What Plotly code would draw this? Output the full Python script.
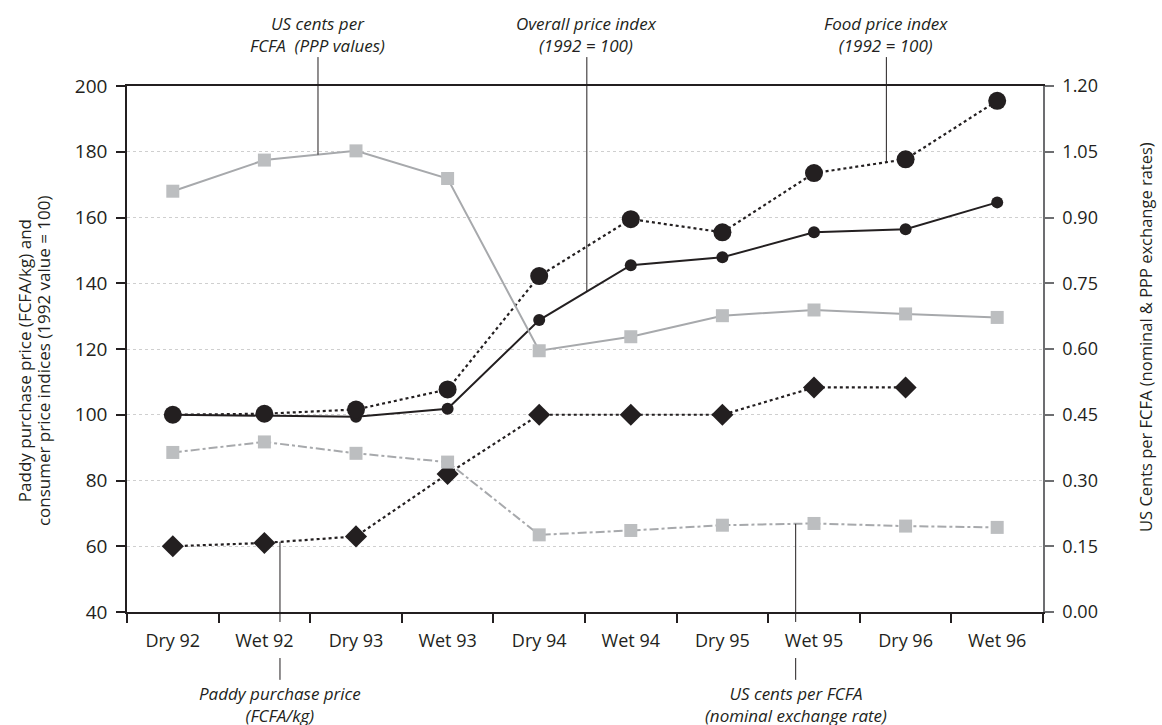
import plotly.graph_objects as go

# ---------------- data ----------------
categories = ["Dry 92", "Wet 92", "Dry 93", "Wet 93", "Dry 94",
              "Wet 94", "Dry 95", "Wet 95", "Dry 96", "Wet 96"]

food_index = [100, 100.3, 101.6, 107.7, 142.2, 159.5, 155.5, 173.5, 177.7, 195.5]
overall_index = [100, 99.8, 99.4, 101.8, 128.8, 145.5, 147.9, 155.5, 156.4, 164.6]
paddy_price = [60, 61, 63, 82, 100, 100, 100, 108.3, 108.3, None]

usc_ppp = [0.960, 1.031, 1.052, 0.989, 0.596, 0.628, 0.676, 0.689, 0.680, 0.672]
usc_nominal = [0.364, 0.388, 0.362, 0.342, 0.176, 0.186, 0.198, 0.202, 0.196, 0.193]

left_ticks = [40, 60, 80, 100, 120, 140, 160, 180, 200]
right_ticks = [0.00, 0.15, 0.30, 0.45, 0.60, 0.75, 0.90, 1.05, 1.20]
right_ticktext = ["0.00", "0.15", "0.30", "0.45", "0.60", "0.75", "0.90", "1.05", "1.20"]

# ---------------- styling ----------------
BLACK = "#231f20"
GRAY_LINE = "#a7a9ac"
GRAY_MARK = "#bcbec0"
FONT = "Open Sans"

X0, X1 = -0.5, len(categories) - 0.5
Y0, Y1 = 40, 200
R0, R1 = 0.0, 1.2


def xp(p):
    return (p - X0) / (X1 - X0)


def yp(v):
    return (v - Y0) / (Y1 - Y0)


def rp(v):
    return (v - R0) / (R1 - R0)


def interp(series, p):
    i = int(p)
    f = p - i
    return series[i] + (series[i + 1] - series[i]) * f


fig = go.Figure()

fig.add_trace(go.Scatter(
    x=categories, y=usc_ppp, yaxis="y2", mode="lines+markers",
    line=dict(color=GRAY_LINE, width=2),
    marker=dict(symbol="square", size=13, color=GRAY_MARK),
    name="US cents per FCFA (PPP values)"))

fig.add_trace(go.Scatter(
    x=categories, y=usc_nominal, yaxis="y2", mode="lines+markers",
    line=dict(color=GRAY_LINE, width=2, dash="dashdot"),
    marker=dict(symbol="square", size=13, color=GRAY_MARK),
    name="US cents per FCFA (nominal exchange rate)"))

fig.add_trace(go.Scatter(
    x=categories, y=overall_index, mode="lines+markers",
    line=dict(color=BLACK, width=2),
    marker=dict(symbol="circle", size=12, color=BLACK),
    name="Overall price index (1992 = 100)"))

fig.add_trace(go.Scatter(
    x=categories, y=food_index, mode="lines+markers",
    line=dict(color=BLACK, width=2.2, dash="dot"),
    marker=dict(symbol="circle", size=18, color=BLACK),
    name="Food price index (1992 = 100)"))

fig.add_trace(go.Scatter(
    x=categories, y=paddy_price, mode="lines+markers",
    line=dict(color=BLACK, width=2.2, dash="dot"),
    marker=dict(symbol="diamond", size=17, color=BLACK),
    name="Paddy purchase price (FCFA/kg)"))

# ---------------- leader lines & callouts ----------------
shapes = []
annotations = []
ann_font = dict(family=FONT, size=17, color=BLACK, style="italic")

top_callouts = [
    (1.585, rp(interp(usc_ppp, 1.585)), "US cents per<br>FCFA  (PPP values)"),
    (4.52, yp(interp(overall_index, 4.52)), "Overall price index<br>(1992 = 100)"),
    (7.79, yp(interp(food_index, 7.79)), "Food price index<br>(1992 = 100)"),
]
for p, yb, txt in top_callouts:
    shapes.append(dict(type="line", xref="paper", yref="paper",
                       x0=xp(p), x1=xp(p), y0=yb, y1=1.055,
                       line=dict(color=BLACK, width=1)))
    annotations.append(dict(xref="paper", yref="paper", x=xp(p), y=1.052,
                            xanchor="center", yanchor="bottom", showarrow=False,
                            text=txt, font=ann_font, align="center"))

bottom_callouts = [
    (1.17, yp(interp(paddy_price, 1.17)), "Paddy purchase price<br>(FCFA/kg)"),
    (6.80, rp(interp(usc_nominal, 6.80)), "US cents per FCFA<br>(nominal exchange rate)"),
]
for p, yt, txt in bottom_callouts:
    shapes.append(dict(type="line", xref="paper", yref="paper",
                       x0=xp(p), x1=xp(p), y0=yt, y1=-0.019,
                       line=dict(color=BLACK, width=1)))
    shapes.append(dict(type="line", xref="paper", yref="paper",
                       x0=xp(p), x1=xp(p), y0=-0.0875, y1=-0.129,
                       line=dict(color=BLACK, width=1)))
    annotations.append(dict(xref="paper", yref="paper", x=xp(p), y=-0.129,
                            xanchor="center", yanchor="top", showarrow=False,
                            text=txt, font=ann_font, align="center"))

# axis titles (two lines placed separately for tight line spacing)
left_title_lines = ["Paddy purchase price (FCFA/kg) and",
                    "consumer price indices (1992 value = 100)"]
for xx, line in zip([-0.1124, -0.0917], left_title_lines):
    annotations.append(dict(xref="paper", yref="paper", x=xx, y=0.477,
                            xanchor="center", yanchor="middle", showarrow=False,
                            textangle=-90, text=line,
                            font=dict(family=FONT, size=17, color=BLACK)))
annotations.append(dict(xref="paper", yref="paper", x=1.1125, y=0.523,
                        xanchor="center", yanchor="middle", showarrow=False,
                        textangle=-90,
                        text="US Cents per FCFA (nominal & PPP exchange rates)",
                        font=dict(family=FONT, size=16.5, color=BLACK)))

fig.update_layout(
    width=1162, height=725,
    margin=dict(l=127, r=119, t=86, b=113),
    paper_bgcolor="white", plot_bgcolor="white",
    showlegend=False,
    font=dict(family=FONT, size=18, color=BLACK),
    xaxis=dict(type="category", range=[X0, X1], tickson="boundaries",
               ticks="outside", ticklen=9, tickcolor=BLACK, tickwidth=1.5,
               showline=True, linecolor=BLACK, linewidth=1.5, mirror=True,
               showgrid=False, zeroline=False, ticklabelstandoff=12,
               tickfont=dict(family=FONT, size=18, color=BLACK)),
    yaxis=dict(range=[Y0, Y1], tickvals=left_ticks, ticks="outside", ticklen=9,
               tickcolor=BLACK, tickwidth=1.5, showline=True, linecolor=BLACK,
               linewidth=1.5, showgrid=True, gridcolor="#cfcfcf", gridwidth=1,
               griddash="dot", zeroline=False, ticklabelstandoff=5,
               tickfont=dict(family=FONT, size=19, color=BLACK)),
    yaxis2=dict(range=[R0, R1], tickvals=right_ticks, ticktext=right_ticktext,
                overlaying="y", side="right", ticks="outside", ticklen=9,
                tickcolor="#6d6e71", tickwidth=1.5, showline=True,
                linecolor="#6d6e71", linewidth=1.5, showgrid=False,
                zeroline=False, ticklabelstandoff=5,
                tickfont=dict(family=FONT, size=18, color=BLACK)),
    shapes=shapes,
    annotations=annotations,
)

fig.write_html("out.html", config={"displayModeBar": False},
               post_script="document.body.style.margin='0';document.body.style.overflow='hidden';")
